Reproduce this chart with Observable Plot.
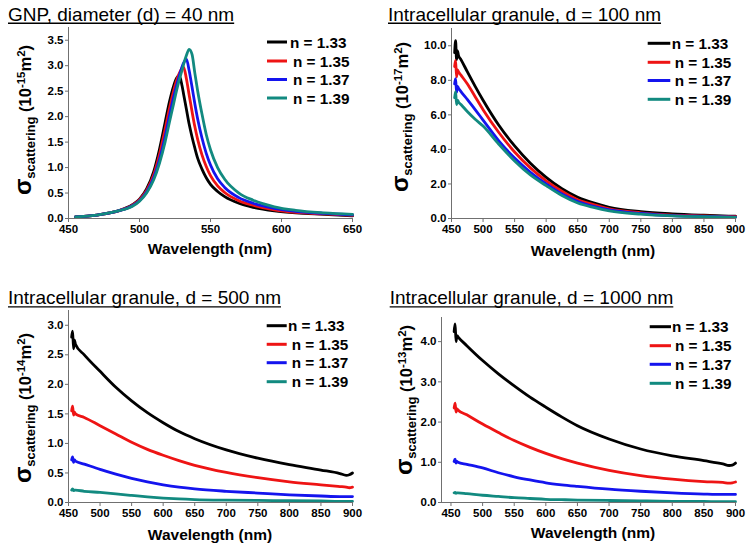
<!DOCTYPE html>
<html><head><meta charset="utf-8">
<script src="https://cdn.jsdelivr.net/npm/d3@7"></script>
<script src="https://cdn.jsdelivr.net/npm/@observablehq/plot@0.6"></script>
<style>
body{margin:0;background:#fff;}
#root{position:relative;width:754px;height:551px;overflow:hidden;background:#fff;}
.panel{position:absolute;}
</style></head><body><div id="root"></div>
<script>
// ---------- data ----------
const seriesLabels = ["n = 1.33", "n = 1.35", "n = 1.37", "n = 1.39"];
const seriesColors = ["#000000", "#ee1414", "#1414ee", "#128a80"];

// Panel 1: GNP, d = 40 nm (10^-15 m^2)
const wl1 = [455,465,475,485,495,500,505,510,514,518,521,524,526,528,530,531,533,535,537,539,541,544,547,550,555,560,570,580,595,610,630,650];
const gnp133 = [.03,.05,.09,.15,.27,.38,.58,.92,1.35,1.88,2.28,2.6,2.75,2.81,2.6,2.45,2.15,1.85,1.6,1.38,1.18,.97,.8,.67,.53,.43,.3,.22,.15,.11,.08,.05];
const gnp135 = [.03,.05,.09,.15,.26,.37,.55,.86,1.25,1.75,2.15,2.5,2.7,2.85,2.95,2.97,2.75,2.42,2.1,1.8,1.55,1.25,1.02,.84,.64,.51,.35,.26,.17,.12,.09,.06];
const gnp137 = [.03,.05,.09,.15,.25,.35,.52,.8,1.15,1.6,2.0,2.38,2.6,2.8,2.98,3.05,3.13,2.9,2.58,2.25,1.95,1.58,1.28,1.05,.78,.61,.41,.3,.2,.14,.1,.07];
const gnp139 = [.03,.05,.09,.15,.24,.34,.5,.76,1.08,1.5,1.88,2.25,2.5,2.72,2.92,3.02,3.2,3.32,3.22,2.85,2.5,2.05,1.65,1.35,1.0,.77,.5,.36,.23,.16,.11,.08];

// Panel 2: granule d = 100 nm (10^-17 m^2)
const wl2 = [455,456.5,458,459.5,461,465,475,487.5,500,525,550,575,600,625,650,675,700,750,800,850,900];
const g100_133 = [9.6,10.3,9.2,9.7,9.45,9.2,8.5,7.65,6.85,5.4,4.2,3.2,2.38,1.72,1.23,0.9,0.65,0.4,0.27,0.19,0.13];
const g100_135 = [8.8,9.15,8.2,8.6,8.5,8.3,7.8,7.05,6.3,4.98,3.85,2.93,2.18,1.58,1.09,0.8,0.56,0.33,0.2,0.15,0.1];
const g100_137 = [7.8,8.1,7.3,7.65,7.55,7.35,6.9,6.3,5.7,4.5,3.5,2.68,2.0,1.42,0.98,0.7,0.5,0.29,0.17,0.12,0.08];
const g100_139 = [7.0,7.35,6.6,6.85,6.75,6.6,6.2,5.75,5.35,4.3,3.33,2.52,1.9,1.33,0.9,0.64,0.44,0.25,0.15,0.1,0.07];

// Panel 3: granule d = 500 nm (10^-14 m^2)
const wl3 = [455,456.5,458,459.5,461,475,500,525,550,575,600,625,650,700,750,800,850,880,890,895,900];
const g500_133 = [2.8,2.9,2.6,2.75,2.68,2.5,2.22,1.95,1.72,1.52,1.35,1.2,1.08,0.89,0.75,0.64,0.55,0.49,0.46,0.47,0.5];
const g500_135 = [1.55,1.63,1.48,1.53,1.5,1.44,1.3,1.16,1.02,0.9,0.8,0.71,0.63,0.51,0.42,0.35,0.3,0.27,0.26,0.25,0.26];
const g500_137 = [0.72,0.77,0.68,0.72,0.7,0.65,0.56,0.48,0.41,0.35,0.3,0.26,0.23,0.19,0.16,0.13,0.11,0.1,0.1,0.1,0.1];
const g500_139 = [0.21,0.23,0.2,0.21,0.21,0.19,0.17,0.145,0.12,0.095,0.075,0.06,0.05,0.04,0.035,0.03,0.025,0.02,0.02,0.02,0.02];

// Panel 4: granule d = 1000 nm (10^-13 m^2)
const wl4 = [455,456.5,458,459.5,461,475,500,525,550,575,600,625,650,700,750,800,850,880,890,895,900];
const g1000_133 = [4.25,4.44,4.0,4.15,4.12,3.9,3.53,3.2,2.9,2.62,2.37,2.13,1.91,1.58,1.33,1.16,1.04,0.96,0.92,0.93,0.98];
const g1000_135 = [2.35,2.47,2.25,2.33,2.3,2.18,1.95,1.74,1.54,1.37,1.22,1.09,0.98,0.8,0.67,0.58,0.52,0.5,0.48,0.49,0.51];
const g1000_137 = [1.02,1.08,0.98,1.02,1.0,0.95,0.86,0.74,0.64,0.56,0.49,0.44,0.4,0.33,0.28,0.24,0.21,0.2,0.2,0.2,0.2];
const g1000_139 = [0.24,0.25,0.23,0.24,0.24,0.22,0.18,0.15,0.12,0.1,0.08,0.07,0.06,0.05,0.04,0.03,0.025,0.02,0.02,0.02,0.02];

const titles = ["GNP, diameter (d) = 40 nm", "Intracellular granule, d = 100 nm", "Intracellular granule, d = 500 nm", "Intracellular granule, d = 1000 nm"];
const exponents = ["-15", "-17", "-14", "-13"];
const xTicks1 = [450, 500, 550, 600, 650];
const xTicksWide = [450, 500, 550, 600, 650, 700, 750, 800, 850, 900];
const yTicks1 = [0, 0.5, 1, 1.5, 2, 2.5, 3, 3.5];
const yTicks2 = [0, 2, 4, 6, 8, 10];
const yTicks3 = [0, 0.5, 1, 1.5, 2, 2.5, 3];
const yTicks4 = [0, 1, 2, 3, 4];

// ---------- layout ----------
const FONT = '"Liberation Sans", Arial, Helvetica, sans-serif';
const panels = [
  {left:0, top:0, h:275, m:[27,25,57,68], xd:[450,650], yd:[0,3.75], xt:xTicks1, yt:yTicks1,
   x:wl1, ys:[gnp133,gnp135,gnp137,gnp139],
   title:{x:8, y:20.7}, xl:{x:210, y:254}, yl:{x:31, y:120},
   leg:{x1:267, x2:287, tx:[290,293,293,293], rows:[42,61,79.5,98]}},
  {left:377, top:0, h:275, m:[28,19,57,74], xd:[450,900], yd:[0,11], xt:xTicksWide, yt:yTicks2,
   x:wl2, ys:[g100_133,g100_135,g100_137,g100_139],
   title:{x:11, y:20.7}, xl:{x:216, y:256}, yl:{x:31, y:117},
   leg:{x1:270.7, x2:293.3, tx:[294.7,297.7,297.7,297.7], rows:[43.3,62.3,80.5,99.3]}},
  {left:0, top:275, h:276, m:[35,25,49,68], xd:[450,900], yd:[0,3.25], xt:xTicksWide, yt:yTicks3,
   x:wl3, ys:[g500_133,g500_135,g500_137,g500_139],
   title:{x:8, y:29.3}, xl:{x:210, y:265}, yl:{x:31, y:133},
   leg:{x1:266.7, x2:286.7, tx:[288,291.7,291.7,291.7], rows:[50.7,69.3,87.7,106.7]}},
  {left:377, top:275, h:276, m:[42,19,49,64], xd:[435,900], yd:[0,4.6], xt:xTicksWide, yt:yTicks4,
   x:wl4, ys:[g1000_133,g1000_135,g1000_137,g1000_139],
   title:{x:12.7, y:29.3}, xl:{x:216, y:263.3}, yl:{x:35, y:125},
   leg:{x1:272.7, x2:294, tx:[295,298,298,298], rows:[51.7,70.7,89.3,108.3]}}
];

const root = document.getElementById("root");
const AXIS = "#707070";

panels.forEach((p, pi) => {
  const data = p.ys.flatMap((vals, si) => p.x.map((w, j) => ({w, v: vals[j], n: seriesLabels[si]})));
  const [mt, mr, mb, ml] = p.m;
  const svg = Plot.plot({
    width: 377, height: p.h,
    marginTop: mt, marginRight: mr, marginBottom: mb, marginLeft: ml,
    style: {fontFamily: FONT, fontSize: "11.5px", fontWeight: "bold", color: "#000", background: "transparent", overflow: "visible"},
    x: {domain: p.xd},
    y: {domain: p.yd},
    color: {domain: seriesLabels, range: seriesColors},
    marks: [
      Plot.line(data, {x: "w", y: "v", z: "n", stroke: "n", strokeWidth: 2.8, curve: "monotone-x"}),
      Plot.ruleX([p.xd[0]], {stroke: AXIS, strokeWidth: 1}),
      Plot.ruleY([0], {stroke: AXIS, strokeWidth: 1}),
      Plot.axisX({ticks: p.xt, tickSize: 4, tickPadding: 2, tickFormat: d => String(d), label: null, stroke: AXIS, fill: "#000"}),
      Plot.axisY({ticks: p.yt, tickSize: 3, tickPadding: 2, tickFormat: d3.format(".1f"), label: null, stroke: AXIS, fill: "#000"})
    ]
  });
  const div = document.createElement("div");
  div.className = "panel";
  div.style.left = p.left + "px";
  div.style.top = p.top + "px";
  div.appendChild(svg);
  root.appendChild(div);

  const s = d3.select(svg);
  const g = s.append("g").attr("font-family", FONT).attr("fill", "#000");
  // title, underlined
  const t = g.append("text").attr("x", p.title.x).attr("y", p.title.y).attr("text-anchor", "start")
    .attr("font-size", 19).attr("font-weight", "normal").text(titles[pi]);
  const tw = t.node().getComputedTextLength();
  g.append("line").attr("x1", p.title.x).attr("x2", p.title.x + tw)
    .attr("y1", p.title.y + 2.6).attr("y2", p.title.y + 2.6).attr("stroke", "#000").attr("stroke-width", 1.4);
  // x label
  g.append("text").attr("x", p.xl.x).attr("y", p.xl.y).attr("text-anchor", "middle")
    .attr("font-size", 15.5).attr("font-weight", "bold").text("Wavelength (nm)");
  // y label
  const yl = g.append("text").attr("transform", `translate(${p.yl.x},${p.yl.y}) rotate(-90)`)
    .attr("text-anchor", "middle").attr("font-weight", "bold");
  yl.append("tspan").attr("font-size", 24).text("σ");
  yl.append("tspan").attr("font-size", 13).attr("dy", 4).text("scattering");
  yl.append("tspan").attr("font-size", 16.5).attr("dy", -4).text("\u00a0(10");
  yl.append("tspan").attr("font-size", 11.5).attr("dy", -6).text(exponents[pi]);
  yl.append("tspan").attr("font-size", 16.5).attr("dy", 6).text("m");
  yl.append("tspan").attr("font-size", 11.5).attr("dy", -6).text("2");
  yl.append("tspan").attr("font-size", 16.5).attr("dy", 6).text(")");
  // legend
  seriesLabels.forEach((lab, i) => {
    const y = p.leg.rows[i];
    g.append("line").attr("x1", p.leg.x1).attr("x2", p.leg.x2).attr("y1", y).attr("y2", y)
      .attr("stroke", seriesColors[i]).attr("stroke-width", 3);
    g.append("text").attr("x", p.leg.tx[i]).attr("y", y).attr("dy", "0.36em").attr("text-anchor", "start")
      .attr("font-size", 15.3).attr("font-weight", "bold").text(lab);
  });
});
</script></body></html>
